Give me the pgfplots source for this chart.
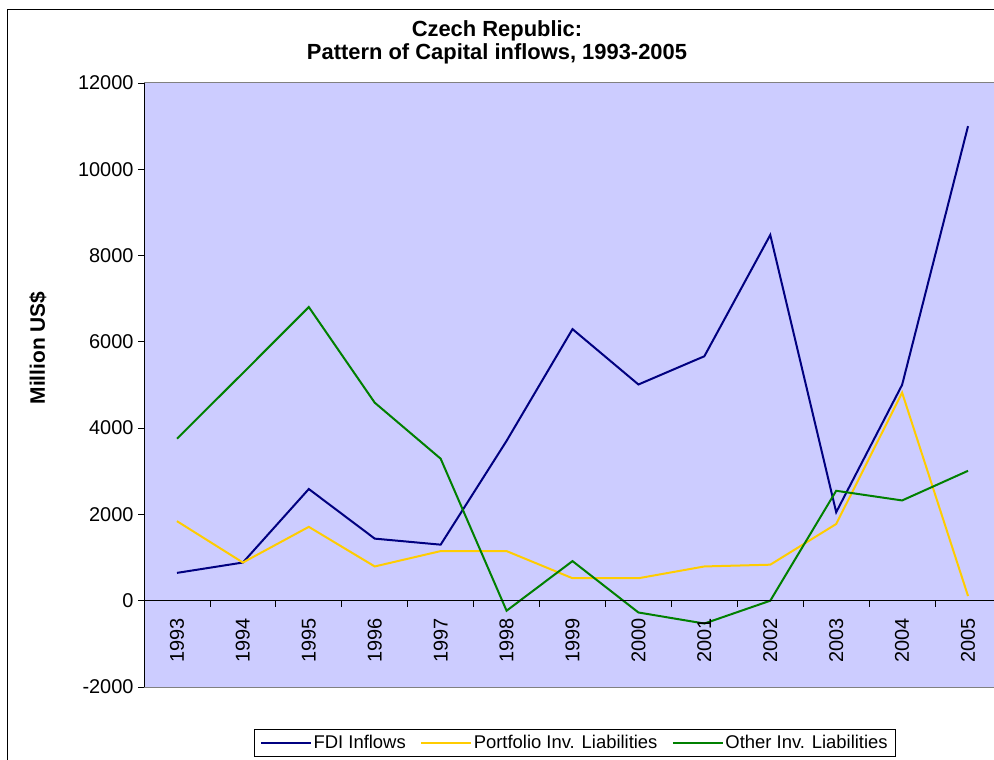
\documentclass[border=0pt]{standalone}
\usepackage{pgfplots}
\pgfplotsset{compat=1.18}
\usepackage{fontspec}
\setmainfont{Liberation Sans}
\definecolor{plotbg}{RGB}{204,204,255}
\definecolor{fdi}{RGB}{0,0,128}
\definecolor{port}{RGB}{255,204,0}
\definecolor{oth}{RGB}{0,128,0}
\begin{document}
\begin{tikzpicture}
\useasboundingbox (0,0) rectangle (994bp,760bp);
\fill[white] (0,0) rectangle (994bp,760bp);
\draw[black,line width=0.9bp] (7bp,-10bp) -- (7bp,751bp) -- (1010bp,751bp);
\node[font=\bfseries\fontsize{22}{24}\selectfont, anchor=base] at (497bp,723bp) {Czech Republic:};
\node[font=\bfseries\fontsize{22}{24}\selectfont, anchor=base] at (497bp,700bp) {Pattern of Capital inflows, 1993-2005};
\node[rotate=90, font=\bfseries\fontsize{21}{24}\selectfont] at (38bp,412bp) {Million US\$};
\begin{axis}[
  at={(144bp,73bp)}, anchor=south west,
  scale only axis, width=857bp, height=604bp,
  xmin=0.5, xmax=13.5, ymin=-2000, ymax=12000,
  axis x line=none, axis y line*=left,
  y axis line style={black, line width=0.9bp},
  axis background/.style={fill=plotbg, draw=gray, line width=1bp},
  ytick={-2000,0,2000,4000,6000,8000,10000,12000},
  scaled y ticks=false,
  tick align=outside, major tick length=6bp,
  y tick style={black, line width=0.8bp},
  /pgf/number format/assume math mode=true,
  /pgf/number format/1000 sep={},
  yticklabel style={font=\fontsize{20}{22}\selectfont, xshift=-1bp},
  legend style={at={(0.5025,-0.0927)}, anchor=center, legend columns=3,
    draw=black, line width=0.8bp, fill=white,
    font=\fontsize{18.5}{20}\selectfont, inner xsep=6bp, inner ysep=4bp,
    nodes={inner xsep=1.5bp, inner ysep=2bp},
    /tikz/every even column/.append style={column sep=13bp}},
  legend image code/.code={\draw[#1] (0bp,0bp) -- (50bp,0bp);},
]
\addplot[fdi, line width=2bp] coordinates {
(1,645) (2,885) (3,2589) (4,1439) (5,1299) (6,3705) (7,6295)
(8,5012) (9,5666) (10,8478) (11,2051) (12,5004) (13,11000)};
\addlegendentry{FDI Inflows}
\addplot[port, line width=2bp] coordinates {
(1,1844) (2,885) (3,1712) (4,794) (5,1150) (6,1150) (7,521)
(8,521) (9,794) (10,835) (11,1778) (12,4822) (13,108)};
\addlegendentry{Portfolio Inv. Liabilities}
\addplot[oth, line width=2bp] coordinates {
(1,3755) (2,5277) (3,6807) (4,4590) (5,3292) (6,-232) (7,918)
(8,-273) (9,-529) (10,0) (11,2548) (12,2324) (13,3011)};
\addlegendentry{Other Inv. Liabilities}
\draw[black, line width=0.9bp] (axis cs:0.5,0) -- (axis cs:13.5,0);
\pgfplotsinvokeforeach{1.5,2.5,3.5,4.5,5.5,6.5,7.5,8.5,9.5,10.5,11.5,12.5,13.5}{
  \draw[black, line width=0.8bp] (axis cs:#1,0) -- ++(0bp,-6bp);
}
\pgfplotsinvokeforeach{1,...,13}{
  \path (axis cs:#1,0) ++(0bp,-17bp) node[rotate=90, anchor=east, inner sep=0pt, font=\fontsize{20}{22}\selectfont] {\pgfmathparse{int(1992+#1)}\pgfmathresult};
}
\end{axis}
\end{tikzpicture}
\end{document}
